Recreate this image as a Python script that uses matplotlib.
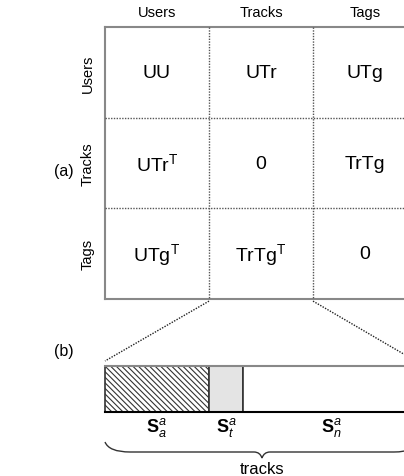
import matplotlib.pyplot as plt
from matplotlib.path import Path
from matplotlib.patches import PathPatch, Rectangle

plt.rcParams['font.family'] = ['Liberation Sans', 'DejaVu Sans']
plt.rcParams['mathtext.fontset'] = 'custom'
plt.rcParams['mathtext.rm'] = 'Liberation Sans'
plt.rcParams['mathtext.it'] = 'Liberation Sans:italic'
plt.rcParams['mathtext.bf'] = 'Liberation Sans:bold'

# block matrix of the user / track / tag relations
entities = ["Users", "Tracks", "Tags"]
cells = [
    ["UU", "UTr", "UTg"],
    ["UTr$^\\mathrm{T}$", "0", "TrTg"],
    ["UTg$^\\mathrm{T}$", "TrTg$^\\mathrm{T}$", "0"],
]

# split of the track vector into three parts (fractions of the track block)
segments = ["a", "t", "n"]
segment_share = [0.33, 0.11, 0.56]
segment_fill = ["white", "#e4e4e4", "white"]
segment_hatch = ["\\\\\\\\\\\\", None, None]

fig = plt.figure(figsize=(4.04, 4.77), dpi=100)
ax = fig.add_axes([0, 0, 1, 1])
ax.set_xlim(0, 404)
ax.set_ylim(477, 0)
ax.axis("off")

x0, y0 = 105, 28
cw, ch = 104, 90.7
n = len(entities)
grid = "#888888"

# outer frame (left, top, bottom solid)
ax.plot([x0, x0], [y0, y0 + n * ch], color=grid, lw=1.5)
ax.plot([x0, x0 + n * cw], [y0, y0], color=grid, lw=1.5)
ax.plot([x0, x0 + n * cw], [y0 + n * ch, y0 + n * ch], color=grid, lw=1.5)
# inner dotted separators
for k in range(1, n):
    ax.plot([x0 + k * cw] * 2, [y0, y0 + n * ch], color="#555555", lw=1, ls=(0, (1, 1)))
    ax.plot([x0, x0 + n * cw], [y0 + k * ch] * 2, color="#555555", lw=1, ls=(0, (1, 1)))

for j, name in enumerate(entities):
    ax.text(x0 + (j + 0.5) * cw, 13, name, ha="center", va="center", fontsize=10.5)
    ax.text(88, y0 + (j + 0.5) * ch, name, ha="center", va="center", fontsize=10.5, rotation=90)
for i, row in enumerate(cells):
    for j, lab in enumerate(row):
        ax.text(x0 + (j + 0.5) * cw, y0 + (i + 0.5) * ch, lab, ha="center", va="center",
                fontsize=14)

ax.text(64, 172, "(a)", ha="center", va="center", fontsize=11.5)
ax.text(64, 352, "(b)", ha="center", va="center", fontsize=11.5)

# zoom lines from the Tracks column down to the vector
bx0, bx1 = 105, 419
by0, by1 = 367, 413
ax.plot([x0 + cw, bx0], [y0 + n * ch + 2, 362], color="#222222", lw=1, ls=(0, (1, 1)))
ax.plot([x0 + 2 * cw, bx1], [y0 + n * ch + 2, 364], color="#222222", lw=1, ls=(0, (1, 1)))

plt.rcParams['hatch.linewidth'] = 0.8
left = bx0
total = bx1 - bx0
for name, share, fill, hatch in zip(segments, segment_share, segment_fill, segment_hatch):
    w = share * total
    ax.add_patch(Rectangle((left, by0), w, by1 - by0, facecolor=fill, hatch=hatch,
                           edgecolor="#333333", lw=1.2))
    ax.text(left + w / 2, 428, "$\\mathbf{S}^{a}_{%s}$" % name, ha="center", va="center",
            fontsize=13)
    left += w
ax.plot([bx0, bx1], [by1, by1], color="black", lw=1.5)
ax.plot([bx0, bx1], [by0, by0], color="#888888", lw=1.5)

# curly brace under the vector
mid = (bx0 + bx1) / 2
ytop, ybase, ytip = 443, 453, 459
verts = [
    (bx0, ytop), (bx0 + 4, ybase), (bx0 + 25, ybase),
    (mid - 20, ybase), (mid - 20, ybase), (mid - 8, ybase),
    (mid - 2, ybase), (mid, ytip),
    (mid + 2, ybase), (mid + 8, ybase),
    (mid + 20, ybase), (bx1 - 25, ybase),
    (bx1 - 4, ybase), (bx1, ytop),
]
codes = [Path.MOVETO, Path.CURVE3, Path.CURVE3,
         Path.LINETO, Path.LINETO, Path.LINETO,
         Path.CURVE3, Path.CURVE3,
         Path.CURVE3, Path.CURVE3,
         Path.LINETO, Path.LINETO,
         Path.CURVE3, Path.CURVE3]
ax.add_patch(PathPatch(Path(verts, codes), facecolor="none", edgecolor="#333333", lw=1))
ax.text(mid, 470, "tracks", ha="center", va="center", fontsize=12)

fig.savefig("out.png", dpi=100)
